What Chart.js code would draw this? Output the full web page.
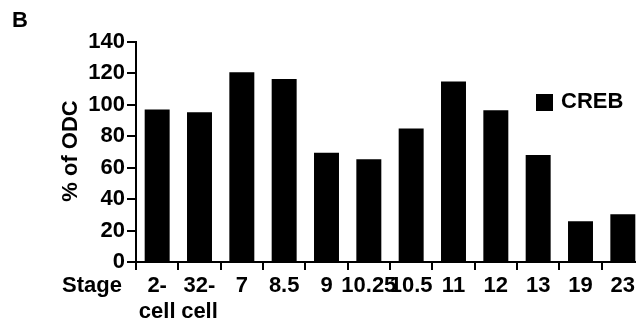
<!DOCTYPE html>
<html>
<head>
<meta charset="utf-8">
<script src="https://cdn.jsdelivr.net/npm/chart.js@4"></script>
<style>
  html, body { margin: 0; padding: 0; background: #fff; overflow: hidden; }
</style>
</head>
<body>
<canvas id="creb_chart" width="644" height="326"></canvas>
<script>
const stages = [['2-', 'cell'], ['32-', 'cell'], '7', '8.5', '9', '10.25', '10.5', '11', '12', '13', '19', '23'];
const crebValues = [97, 95.3, 120.7, 116.5, 69.6, 65.4, 84.9, 114.8, 96.5, 68.1, 25.9, 30.4];
const yTicks = [0, 20, 40, 60, 80, 100, 120, 140];

const FONT = '"Liberation Sans", Arial, Helvetica, sans-serif';

// panel letter, "Stage", y title and legend drawn on top of the chart
const extras = {
    id: 'extras',
    afterDraw(chart) {
        const ctx = chart.ctx;
        ctx.save();
        ctx.fillStyle = '#000';
        ctx.font = 'bold 22px ' + FONT;
        ctx.textBaseline = 'middle';
        ctx.textAlign = 'left';
        ctx.fillText('B', 12, 21);
        ctx.fillText('Stage', 62, 286);

        // legend
        ctx.fillRect(536, 94, 17, 17);
        ctx.fillText(chart.data.datasets[0].label, 561, 102);

        // y axis title
        ctx.translate(71, 151);
        ctx.rotate(-Math.PI / 2);
        ctx.textAlign = 'center';
        ctx.fillText('% of ODC', 0, 0);
        ctx.restore();
    }
};

const ctx = document.getElementById('creb_chart').getContext('2d');

new Chart(ctx, {
    type: 'bar',
    data: {
        labels: stages,
        datasets: [{
            label: 'CREB',
            data: crebValues,
            backgroundColor: '#000',
            borderWidth: 0,
            barPercentage: 0.59,
            categoryPercentage: 1
        }]
    },
    options: {
        responsive: false,
        animation: false,
        layout: { padding: { top: 42, right: 0, left: 0, bottom: 0 } },
        plugins: {
            legend: { display: false },
            tooltip: { enabled: false }
        },
        scales: {
            x: {
                afterFit: s => { s.height = 64; },
                grid: { drawOnChartArea: false, tickLength: 8, color: '#000', lineWidth: 2 },
                border: { color: '#000', width: 2 },
                ticks: {
                    color: '#000',
                    padding: 3,
                    maxRotation: 0,
                    autoSkip: false,
                    font: { family: FONT, size: 22, weight: 'bold', lineHeight: 1.18 }
                }
            },
            y: {
                min: 0,
                max: 140,
                afterFit: s => { s.width = 136; },
                afterBuildTicks: s => { s.ticks = yTicks.map(v => ({ value: v })); },
                grid: { drawOnChartArea: false, tickLength: 9, color: '#000', lineWidth: 2 },
                border: { color: '#000', width: 2 },
                ticks: {
                    color: '#000',
                    padding: 2,
                    font: { family: FONT, size: 22, weight: 'bold' }
                }
            }
        }
    },
    plugins: [extras]
});
</script>
</body>
</html>
